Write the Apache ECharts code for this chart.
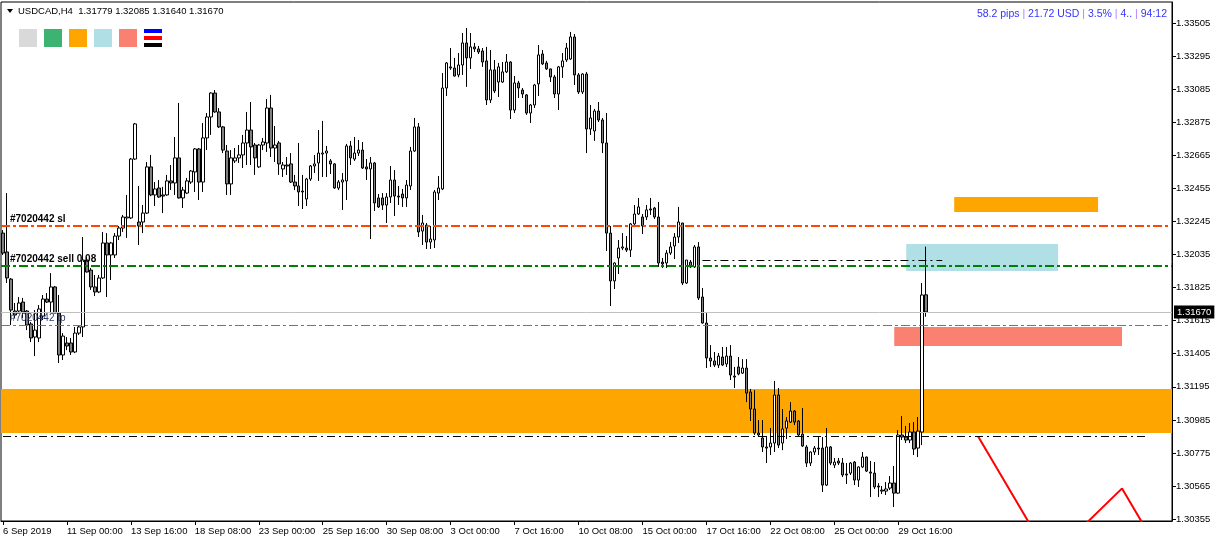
<!DOCTYPE html>
<html><head><meta charset="utf-8">
<script src="https://cdn.jsdelivr.net/npm/echarts@6/dist/echarts.min.js"></script>
<style>html,body{margin:0;padding:0;background:#fff}#c{width:1217px;height:542px}</style>
</head><body><div id="c"></div><script>
// ---- candle data (USDCAD H4), one entry per bar ----
const opens=[1.32171,1.32051,1.31879,1.31676,1.31676,1.31733,1.31676,1.31594,1.31511,1.31505,1.31644,1.31752,1.31733,1.31829,1.31663,1.31397,1.31473,1.31473,1.31416,1.31536,
1.31575,1.32000,1.31936,1.31829,1.31797,1.31886,1.32108,1.32032,1.32032,1.32152,1.32203,1.32267,1.32267,1.32641,1.32241,1.32241,1.32298,1.32591,1.32413,1.32457,
1.32413,1.32413,1.32502,1.32489,1.32648,1.32394,1.32425,1.32495,1.32559,1.32705,1.32495,1.32775,1.32908,1.33060,1.32940,1.32845,1.32692,1.32483,1.32629,1.32648,
1.32667,1.32743,1.32825,1.32730,1.32591,1.32730,1.32743,1.32965,1.32711,1.32743,1.32578,1.32603,1.32610,1.32495,1.32470,1.32438,1.32387,1.32514,1.32597,1.32616,
1.32673,1.32679,1.32629,1.32610,1.32457,1.32495,1.32502,1.32724,1.32641,1.32679,1.32698,1.32591,1.32578,1.32616,1.32394,1.32394,1.32349,1.32400,1.32508,1.32406,
1.32419,1.32394,1.32470,1.32692,1.32845,1.32184,1.32222,1.32114,1.32127,1.32425,1.32451,1.33092,1.33226,1.33219,1.33175,1.33238,1.33378,1.33283,1.33353,1.33340,
1.33327,1.33264,1.33016,1.33207,1.33130,1.33130,1.33194,1.33257,1.32952,1.33124,1.33079,1.33048,1.32933,1.32984,1.33118,1.33308,1.33251,1.33213,1.33162,1.33054,
1.33226,1.33270,1.33276,1.33416,1.33175,1.33067,1.33181,1.32832,1.32819,1.32946,1.32889,1.32743,1.32171,1.31867,1.32013,1.32076,1.32076,1.32063,1.32229,1.32292,
1.32273,1.32273,1.32324,1.32330,1.32273,1.31987,1.31981,1.32044,1.32089,1.32146,1.32235,1.31854,1.31987,1.31956,1.32083,1.31765,1.31600,1.31378,1.31359,1.31333,
1.31384,1.31340,1.31390,1.31263,1.31321,1.31282,1.31314,1.31162,1.31054,1.30901,1.30870,1.30813,1.30813,1.30838,1.31143,1.30838,1.30933,1.30971,1.31041,1.30978,
1.30895,1.30813,1.30711,1.30781,1.30806,1.30806,1.30571,1.30813,1.30698,1.30724,1.30711,1.30641,1.30647,1.30717,1.30603,1.30686,1.30749,1.30654,1.30647,1.30565,
1.30539,1.30533,1.30552,1.30584,1.30520,1.30889,1.30876,1.30857,1.30908,1.30806,1.30908,1.31779];
const closes=[1.32044,1.31886,1.31682,1.31651,1.31727,1.31670,1.31587,1.31505,1.31555,1.31689,1.31752,1.31733,1.31829,1.31663,1.31397,1.31517,1.31454,1.31416,1.31536,1.31575,
1.32000,1.31924,1.31829,1.31797,1.31886,1.32108,1.32032,1.32108,1.32152,1.32203,1.32273,1.32273,1.32641,1.32864,1.32216,1.32298,1.32591,1.32413,1.32451,1.32400,
1.32406,1.32502,1.32489,1.32648,1.32394,1.32444,1.32502,1.32565,1.32705,1.32495,1.32775,1.32908,1.33060,1.32940,1.32845,1.32698,1.32483,1.32648,1.32648,1.32667,
1.32743,1.32825,1.32718,1.32648,1.32730,1.32749,1.32965,1.32711,1.32730,1.32610,1.32603,1.32597,1.32495,1.32470,1.32432,1.32432,1.32514,1.32597,1.32610,1.32679,
1.32679,1.32692,1.32610,1.32457,1.32495,1.32508,1.32724,1.32648,1.32679,1.32698,1.32584,1.32578,1.32616,1.32362,1.32337,1.32349,1.32400,1.32508,1.32406,1.32400,
1.32394,1.32476,1.32692,1.32845,1.32178,1.32235,1.32114,1.32133,1.32432,1.32457,1.33092,1.33251,1.33219,1.33168,1.33238,1.33378,1.33283,1.33353,1.33340,1.33321,
1.33257,1.33016,1.33207,1.33073,1.33226,1.33194,1.33257,1.32952,1.33124,1.33092,1.33054,1.32933,1.32984,1.33111,1.33302,1.33245,1.33213,1.33162,1.33054,1.33226,
1.33264,1.33346,1.33416,1.33175,1.33067,1.33181,1.32832,1.32902,1.32946,1.32889,1.32743,1.32171,1.31867,1.31981,1.32076,1.32083,1.32063,1.32229,1.32292,1.32337,
1.32216,1.32318,1.32318,1.32273,1.31981,1.31975,1.32044,1.32083,1.32146,1.32241,1.31854,1.32000,1.31956,1.32083,1.31759,1.31600,1.31378,1.31359,1.31333,1.31390,
1.31333,1.31390,1.31270,1.31257,1.31276,1.31314,1.31155,1.31054,1.30901,1.30889,1.30813,1.30806,1.30838,1.31143,1.30825,1.30927,1.30978,1.31041,1.30971,1.30889,
1.30819,1.30711,1.30781,1.30806,1.30800,1.30571,1.30813,1.30711,1.30717,1.30711,1.30635,1.30635,1.30711,1.30603,1.30686,1.30749,1.30660,1.30647,1.30559,1.30559,
1.30533,1.30546,1.30584,1.30520,1.30889,1.30876,1.30857,1.30908,1.30800,1.30914,1.31778,1.31670];
const lows=[1.32032,1.31854,1.31587,1.31632,1.31663,1.31632,1.31555,1.31479,1.31390,1.31479,1.31619,1.31727,1.31663,1.31663,1.31346,1.31365,1.31428,1.31397,1.31409,1.31524,
1.31511,1.31920,1.31810,1.31771,1.31790,1.31880,1.31765,1.31873,1.32013,1.32127,1.32178,1.32140,1.32260,1.32635,1.32095,1.32171,1.32292,1.32405,1.32343,1.32395,
1.32298,1.32408,1.32444,1.32413,1.32390,1.32330,1.32419,1.32483,1.32432,1.32381,1.32432,1.32698,1.32794,1.32935,1.32838,1.32679,1.32413,1.32413,1.32616,1.32616,
1.32584,1.32603,1.32603,1.32540,1.32585,1.32698,1.32686,1.32654,1.32622,1.32540,1.32527,1.32540,1.32489,1.32444,1.32343,1.32324,1.32343,1.32502,1.32552,1.32502,
1.32527,1.32527,1.32546,1.32452,1.32444,1.32318,1.32381,1.32603,1.32629,1.32660,1.32578,1.32508,1.32133,1.32311,1.32330,1.32318,1.32235,1.32362,1.32279,1.32349,
1.32337,1.32337,1.32444,1.32686,1.32146,1.32095,1.32070,1.32070,1.32076,1.32381,1.32444,1.33041,1.33207,1.33165,1.33160,1.33175,1.33099,1.33213,1.33321,1.33308,
1.33226,1.32984,1.32997,1.33060,1.33035,1.33124,1.33187,1.32895,1.32933,1.33029,1.33029,1.32921,1.32870,1.32965,1.33041,1.33238,1.33207,1.33130,1.33029,1.32952,
1.33156,1.33257,1.33270,1.33111,1.33054,1.33054,1.32679,1.32794,1.32756,1.32876,1.32679,1.32057,1.31708,1.31816,1.31911,1.32063,1.32051,1.32019,1.32222,1.32286,
1.32165,1.32254,1.32286,1.32260,1.31956,1.31949,1.31949,1.32032,1.32006,1.32108,1.31841,1.31848,1.31949,1.31949,1.31746,1.31595,1.31314,1.31321,1.31321,1.31314,
1.31328,1.31321,1.31238,1.31187,1.31268,1.31276,1.31098,1.30978,1.30889,1.30876,1.30781,1.30711,1.30762,1.30781,1.30806,1.30793,1.30863,1.30965,1.30952,1.30876,
1.30813,1.30686,1.30692,1.30762,1.30762,1.30527,1.30565,1.30698,1.30679,1.30698,1.30622,1.30578,1.30635,1.30571,1.30559,1.30679,1.30654,1.30495,1.30546,1.30495,
1.30514,1.30508,1.30540,1.30432,1.30515,1.30857,1.30838,1.30838,1.30762,1.30749,1.30825,1.31640];
const highs=[1.32190,1.32425,1.31886,1.31727,1.31765,1.31759,1.31682,1.31606,1.31682,1.31714,1.31778,1.31790,1.31917,1.31835,1.31778,1.31536,1.31511,1.31505,1.31575,1.31587,
1.32146,1.32019,1.31949,1.31905,1.31905,1.32178,1.32171,1.32115,1.32171,1.32216,1.32286,1.32413,1.32648,1.32870,1.32470,1.32349,1.32622,1.32667,1.32495,1.32508,
1.32464,1.32540,1.32603,1.32781,1.32997,1.32464,1.32521,1.32571,1.32711,1.32711,1.32870,1.32933,1.33065,1.33079,1.32965,1.32851,1.32730,1.32698,1.32711,1.32730,
1.32794,1.32940,1.33003,1.32743,1.32737,1.32775,1.33022,1.33048,1.32851,1.32756,1.32622,1.32654,1.32679,1.32540,1.32743,1.32540,1.32521,1.32603,1.32667,1.32825,
1.32883,1.32724,1.32641,1.32615,1.32508,1.32552,1.32737,1.32756,1.32781,1.32762,1.32749,1.32641,1.32654,1.32622,1.32419,1.32425,1.32425,1.32597,1.32571,1.32470,
1.32451,1.32508,1.32718,1.32902,1.32870,1.32286,1.32235,1.32216,1.32444,1.32533,1.33187,1.33257,1.33346,1.33283,1.33314,1.33441,1.33473,1.33441,1.33378,1.33359,
1.33346,1.33353,1.33333,1.33270,1.33251,1.33257,1.33308,1.33262,1.33168,1.33137,1.33092,1.33054,1.32991,1.33118,1.33365,1.33333,1.33264,1.33215,1.33175,1.33232,
1.33314,1.33378,1.33448,1.33435,1.33187,1.33185,1.33194,1.32984,1.32959,1.33003,1.32902,1.32933,1.32216,1.31985,1.32127,1.32171,1.32152,1.32235,1.32349,1.32394,
1.32292,1.32349,1.32394,1.32337,1.32368,1.32013,1.32063,1.32114,1.32171,1.32337,1.32235,1.32000,1.32000,1.32095,1.32114,1.31822,1.31663,1.31460,1.31416,1.31409,
1.31448,1.31448,1.31460,1.31321,1.31384,1.31371,1.31371,1.31181,1.31174,1.30984,1.30984,1.30876,1.30933,1.31232,1.31187,1.31054,1.31003,1.31098,1.31047,1.30984,
1.31060,1.30825,1.30785,1.30819,1.30876,1.30876,1.30933,1.30819,1.30743,1.30743,1.30743,1.30711,1.30717,1.30724,1.30690,1.30781,1.30752,1.30724,1.30717,1.30584,
1.30565,1.30590,1.30628,1.30692,1.30920,1.31009,1.30946,1.30965,1.30971,1.31003,1.31854,1.32085];

// ---- axes ----
const slotCount = 293; // bars plus empty future space
const xTickIndex  = [0,16,32,48,64,80,96,112,128,144,160,176,192,208,224];
const xTickLabels = ['6 Sep 2019','11 Sep 00:00','13 Sep 16:00','18 Sep 08:00','23 Sep 00:00','25 Sep 16:00','30 Sep 08:00','3 Oct 00:00','7 Oct 16:00','10 Oct 08:00','15 Oct 00:00','17 Oct 16:00','22 Oct 08:00','25 Oct 00:00','29 Oct 16:00'];
const yTicks = [1.30355,1.30565,1.30775,1.30985,1.31195,1.31405,1.31615,1.31825,1.32035,1.32245,1.32455,1.32665,1.32875,1.33085,1.33295,1.33505];
const yMin = 1.30343, yMax = 1.33638;

// ---- levels / objects ----
const levelSL = 1.32216, levelSell = 1.31962, levelTP = 1.31587, levelBid = 1.31670;
const levelBlackLow = 1.30879, levelBlackLowEnd = 286;
const levelBlackHigh = 1.32000, levelBlackHighRange = [175, 235];
const bandOrange = [1.31181, 1.30901];
const boxOrange = [238, 274, 1.32400, 1.32305];
const boxBlue   = [226, 264, 1.32102, 1.31930];
const boxSalmon = [223, 280, 1.31575, 1.31454];
const zigX = [244, 262, 280, 291];
const zigY = [1.30879, 1.30105, 1.30550, 1.30075];

const cats = Array.from({length: slotCount}, (_, i) => String(i));
const tickMap = {}; xTickIndex.forEach((k, i) => tickMap[k] = xTickLabels[i]);
const isTick = (idx) => tickMap[idx] !== undefined;
const candles = opens.map((o, i) => [o, closes[i], Math.min(lows[i], o, closes[i]), Math.max(highs[i], o, closes[i])]);

const FONT = 'Liberation Sans';
const ddot = [9, 3, 3, 3];
const bdot = [8, 4, 2, 4];

const chart = echarts.init(document.getElementById('c'), null, {renderer: 'canvas'});
chart.setOption({
  animation: false,
  backgroundColor: '#fff',
  textStyle: {fontFamily: FONT},
  grid: {left: 1, top: 2, width: 1171, height: 519, show: true, borderColor: '#000', borderWidth: 1, backgroundColor: '#fff'},
  xAxis: {
    type: 'category', data: cats, boundaryGap: true,
    axisLine: {show: true, lineStyle: {color: '#000', width: 1}},
    axisTick: {show: true, interval: isTick, alignWithLabel: true, length: 4, lineStyle: {color: '#000'}},
    axisLabel: {interval: isTick, formatter: (v, i) => tickMap[i] || '', align: 'left', margin: 5, fontSize: 9.5, color: '#000', fontFamily: FONT, hideOverlap: false},
    splitLine: {show: false}
  },
  yAxis: {
    type: 'value', position: 'right', min: yMin, max: yMax, scale: true,
    axisLine: {show: true, lineStyle: {color: '#000', width: 1}},
    axisTick: {show: true, customValues: yTicks, length: 4, lineStyle: {color: '#000'}},
    axisLabel: {customValues: yTicks, formatter: v => v.toFixed(5), margin: 4, fontSize: 9.5, color: '#000', fontFamily: FONT},
    splitLine: {show: false}
  },
  series: [
    {
      name: 'zones', type: 'line', data: [], z: 1,
      markArea: {
        silent: true, z: 1,
        data: [
          [{yAxis: bandOrange[0], itemStyle: {color: '#FFA500', opacity: 1}}, {yAxis: bandOrange[1]}],
          [{coord: [boxOrange[0], boxOrange[2]], itemStyle: {color: '#FFA500', opacity: 1}}, {coord: [boxOrange[1], boxOrange[3]]}],
          [{coord: [boxBlue[0], boxBlue[2]], itemStyle: {color: '#B0E0E6', opacity: 1}}, {coord: [boxBlue[1], boxBlue[3]]}],
          [{coord: [boxSalmon[0], boxSalmon[2]], itemStyle: {color: '#FA8072', opacity: 1}}, {coord: [boxSalmon[1], boxSalmon[3]]}]
        ]
      }
    },
    {
      name: 'USDCAD,H4', type: 'candlestick', data: candles, barWidth: 3, z: 3,
      itemStyle: {color: '#ffffff', color0: '#808080', borderColor: '#000', borderColor0: '#000', borderWidth: 1},
      markLine: {
        silent: true, symbol: ['none', 'none'], z: 5, precision: 5,
        label: {show: false},
        data: [
          {yAxis: levelBid, lineStyle: {color: '#C0C0C0', width: 1, type: 'solid'},
           label: {show: true, position: 'end', formatter: levelBid.toFixed(5), color: '#fff', backgroundColor: '#000', padding: [2, 3, 1, 3], fontSize: 9.5, fontFamily: FONT, distance: 2}},
          {yAxis: levelSL, lineStyle: {color: '#FF4500', width: 2, type: ddot},
           label: {show: true, position: 'insideStartTop', formatter: '#7020442 sl', color: '#000', fontWeight: 'bold', fontSize: 10, fontFamily: FONT, distance: 2, padding: [0, 0, 0, 7]}},
          {yAxis: levelSell, lineStyle: {color: '#008000', width: 2, type: ddot},
           label: {show: true, position: 'insideStartTop', formatter: '#7020442 sell 0.08', color: '#000', fontWeight: 'bold', fontSize: 10, fontFamily: FONT, distance: 2, padding: [0, 0, 0, 7]}},
          {yAxis: levelTP, lineStyle: {color: '#FF4500', width: 1, type: ddot},
           label: {show: true, position: 'insideStartTop', formatter: '#7020442 tp', color: '#2F3D66', fontSize: 10, fontFamily: FONT, distance: 2, padding: [0, 0, 0, 7]}},
          [{coord: [0, levelBlackLow], lineStyle: {color: '#000', width: 1, type: bdot}}, {coord: [levelBlackLowEnd, levelBlackLow]}],
          [{coord: [levelBlackHighRange[0], levelBlackHigh], lineStyle: {color: '#000', width: 1, type: bdot}}, {coord: [levelBlackHighRange[1], levelBlackHigh]}]
        ]
      }
    },
    {
      name: 'zigzag', type: 'line', data: zigX.map((x, i) => [x, zigY[i]]), symbol: 'none', z: 4, clip: true,
      lineStyle: {color: '#FF0000', width: 2}
    }
  ],
  graphic: [
    {type: 'polygon', shape: {points: [[7, 9], [13, 9], [10, 13]]}, style: {fill: '#000'}},
    {type: 'text', left: 18, top: 6, style: {text: 'USDCAD,H4  1.31779 1.32085 1.31640 1.31670', fill: '#000', font: '9.5px "Liberation Sans"'}},
    {type: 'rect', shape: {x: 19, y: 29, width: 18, height: 18}, style: {fill: '#D9D9D9'}},
    {type: 'rect', shape: {x: 44, y: 29, width: 18, height: 18}, style: {fill: '#3CB371'}},
    {type: 'rect', shape: {x: 69, y: 29, width: 18, height: 18}, style: {fill: '#FFA500'}},
    {type: 'rect', shape: {x: 94, y: 29, width: 18, height: 18}, style: {fill: '#B0E0E6'}},
    {type: 'rect', shape: {x: 119, y: 29, width: 18, height: 18}, style: {fill: '#FA8072'}},
    {type: 'rect', shape: {x: 144, y: 29, width: 18, height: 4}, style: {fill: '#0000FF'}},
    {type: 'rect', shape: {x: 144, y: 36, width: 18, height: 4}, style: {fill: '#FF0000'}},
    {type: 'rect', shape: {x: 144, y: 43, width: 18, height: 4}, style: {fill: '#000000'}},
    {type: 'text', right: 50, top: 9, style: {
      text: '{b|58.2 pips }{p||}{b| 21.72 USD }{p||}{b| 3.5% }{p||}{b| 4.. }{p||}{b| 94:12}',
      font: '10.5px "Liberation Sans"',
      rich: {b: {fill: '#3333FF', font: '10.5px "Liberation Sans"'}, p: {fill: '#B07CF5', font: '10.5px "Liberation Sans"'}}
    }}
  ]
});
</script></body></html>
